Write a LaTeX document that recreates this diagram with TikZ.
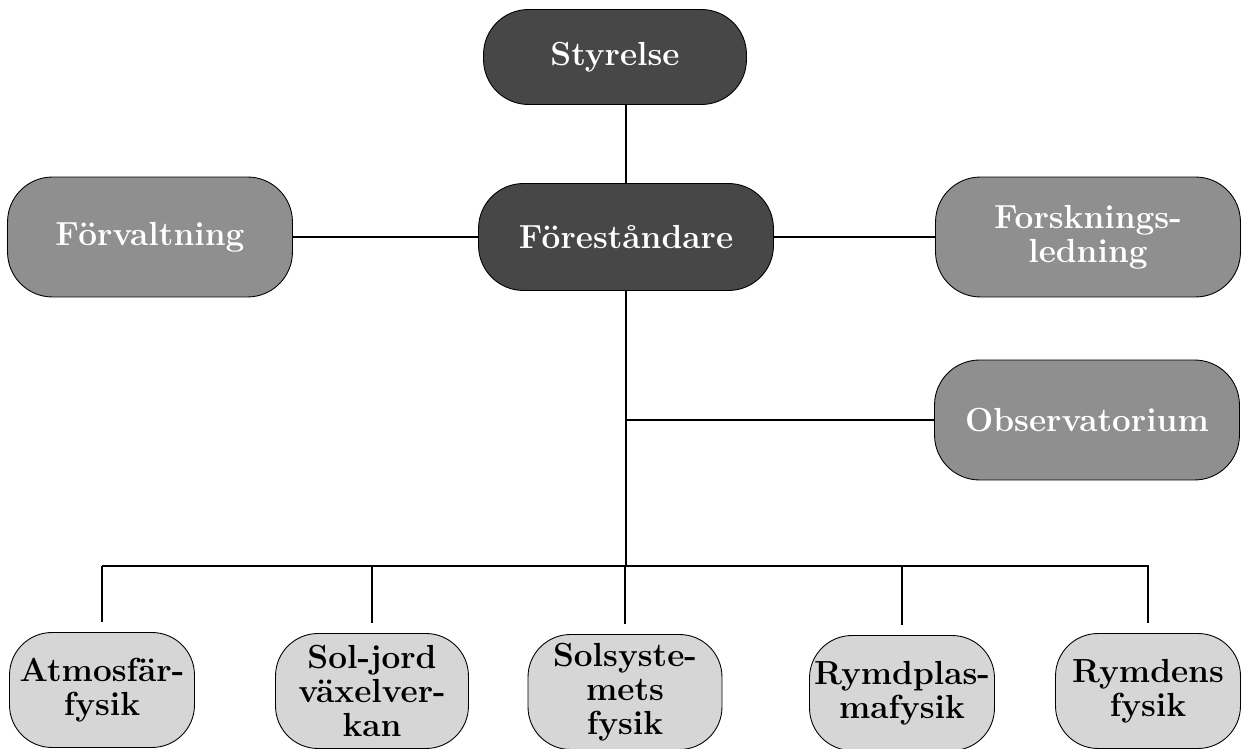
\documentclass[tikz,border=0pt]{standalone}
\usepackage{fontspec}
\definecolor{darkbox}{HTML}{474747}
\definecolor{midbox}{HTML}{8F8F8F}
\definecolor{lightbox}{HTML}{D6D6D6}
\begin{document}
\begin{tikzpicture}[x=0.02cm, y=-0.02cm,
  unit/.style={draw, line width=0.5pt, rectangle, rounded corners=0.9cm, inner sep=0pt,
    align=center, font=\fontsize{19}{19.5}\selectfont\bfseries},
  topunit/.style={unit, fill=darkbox, text=white},
  sideunit/.style={unit, fill=midbox, text=white, minimum width=6.1cm, minimum height=2.4cm},
  dept/.style={unit, fill=lightbox, rounded corners=0.85cm, minimum width=3.7cm, minimum height=2.3cm},
  link/.style={line width=1.5pt}]
 	\useasboundingbox (0,0) rectangle (1242,749);
 	
 	\node [topunit, minimum width=5.26cm, minimum height=1.9cm] (styr) at (615,57) {Styrelse};
 	\node [topunit, minimum width=5.9cm, minimum height=2.14cm] (fore) at (626,237) {Föreståndare};
 	\node [sideunit, minimum width=5.7cm] (forv) at (150,237) {Förvaltning};
 	\node [sideunit] (forsk) at (1088,237) {Forsknings-\\ledning};
 	\node [sideunit] (obs) at (1087,420) {Observatorium};
 	
 	\node [dept] (atm) at (102,690) {Atmosfär-\\fysik};
 	\node [dept, minimum width=3.86cm] (soljord) at (372,691) {Sol-jord\\växelver-\\kan};
 	\node [dept, minimum width=3.88cm] (solsys) at (625,692) {Solsyste-\\mets\\fysik};
 	\node [dept] (plasma) at (902,693) {Rymdplas-\\mafysik};
 	\node [dept] (rymd) at (1148,691) {Rymdens\\fysik};
 	
 	\coordinate (bus) at (626,566);
 	
 	\draw [link] (fore.north |- styr.south) -- (fore.north);
 	\draw [link] (forv) -- (fore);
 	\draw [link] (fore) -- (forsk);
 	\draw [link] (fore.south) -- (fore.south |- bus);
 	\draw [link] (fore.south |- obs) -- (obs.west);
 	\draw [link, shorten >=0.2cm] (atm.north |- bus) -- (rymd.north |- bus) -- (rymd.north);
 	\draw [link, shorten >=0.2cm] (atm.north |- bus) -- (atm.north);
 	\draw [link, shorten >=0.2cm] (soljord.north |- bus) -- (soljord.north);
 	\draw [link, shorten >=0.2cm] (solsys.north |- bus) -- (solsys.north);
 	\draw [link, shorten >=0.2cm] (plasma.north |- bus) -- (plasma.north);
\end{tikzpicture}
\end{document}
